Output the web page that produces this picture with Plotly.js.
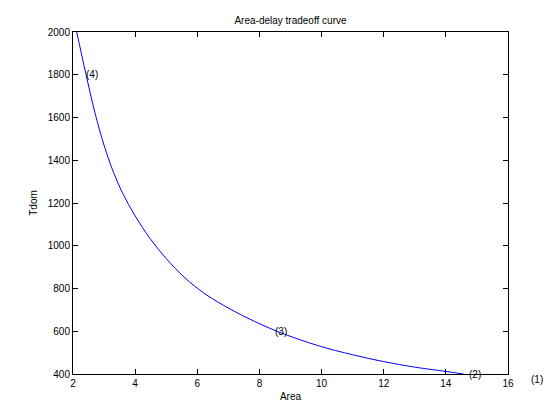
<!DOCTYPE html>
<html>
<head>
<meta charset="utf-8">
<script src="https://cdn.plot.ly/plotly-3.0.1.min.js"></script>
<style>html,body{margin:0;padding:0;background:#fff;}#chart{width:560px;height:420px;}</style>
</head>
<body>
<div id="chart"></div>
<script>
// Curve values
const area = [2.12, 2.41, 2.71, 3.0, 3.3, 3.6, 4.0, 4.5, 5.0, 5.6, 6.2, 6.8, 7.6, 8.6, 9.9, 11.0, 12.0, 13.0, 14.0, 14.57];
const tdom = [2000, 1807, 1620, 1470, 1345, 1245, 1140, 1030, 940, 850, 780, 725, 663, 598, 532, 490, 458, 432, 412, 400];

// Point labels
const labelText = ["(4)", "(3)", "(2)", "(1)"];
const labelX = [2.36, 8.45, 14.68, 16.66];
const labelY = [1800, 600, 400, 372];

// Axis ticks
const xTicks = [2, 4, 6, 8, 10, 12, 14, 16];
const yTicks = [400, 600, 800, 1000, 1200, 1400, 1600, 1800, 2000];

const xRange = [2, 16];
const yRange = [400, 2000];

const font = {family: "Liberation Sans, Arial, sans-serif", size: 10, color: "#000"};

const trace = {
  x: area, y: tdom, type: "scatter", mode: "lines",
  line: {color: "#0000ff", width: 1, shape: "spline", smoothing: 1},
  hoverinfo: "skip"
};

// Use paper coordinates (mapped from data values) so labels outside the range still show
const annotations = labelText.map((t, i) => ({
  x: (labelX[i] - xRange[0]) / (xRange[1] - xRange[0]),
  y: (labelY[i] - yRange[0]) / (yRange[1] - yRange[0]),
  xref: "paper", yref: "paper", text: t,
  showarrow: false, xanchor: "left", yanchor: "middle", font: font
}));

const axisCommon = {
  showline: true, linecolor: "#000", linewidth: 1, mirror: "ticks",
  ticks: "inside", ticklen: 5, tickwidth: 1, tickcolor: "#000",
  showgrid: false, zeroline: false, tickfont: font, fixedrange: true
};

const layout = {
  width: 560, height: 420,
  margin: {l: 73, r: 52, t: 32, b: 46, pad: 0},
  paper_bgcolor: "#fff", plot_bgcolor: "#fff",
  font: font,
  showlegend: false,
  title: {text: "Area-delay tradeoff curve", font: font, x: 0.5, xref: "paper", y: 1 - 20/420, yref: "container", yanchor: "middle"},
  xaxis: Object.assign({}, axisCommon, {
    range: xRange, tickvals: xTicks, ticktext: xTicks.map(String),
    title: {text: "Area", font: font, standoff: 4}
  }),
  yaxis: Object.assign({}, axisCommon, {
    range: yRange, tickvals: yTicks, ticktext: yTicks.map(String),
    title: {text: "Tdom", font: font, standoff: 8}
  }),
  annotations: annotations
};

Plotly.newPlot("chart", [trace], layout, {displayModeBar: false, staticPlot: true});
</script>
</body>
</html>
